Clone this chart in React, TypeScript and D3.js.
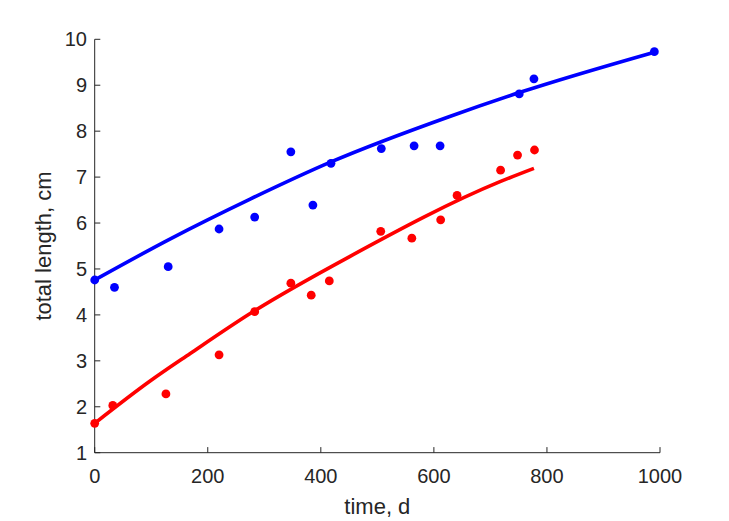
import React from "react";
import * as d3 from "d3";

// Observed data (blue series)
const blueTime = [0, 35, 130, 220, 283, 347, 386, 418, 507, 565, 611, 751, 777, 990];
const blueLength = [4.76, 4.6, 5.05, 5.87, 6.13, 7.55, 6.39, 7.3, 7.62, 7.68, 7.68, 8.81, 9.14, 9.73];

// Observed data (red series)
const redTime = [0, 32, 126, 220, 283, 347, 383, 415, 506, 561, 612, 641, 718, 748, 778];
const redLength = [1.64, 2.03, 2.28, 3.13, 4.07, 4.69, 4.43, 4.74, 5.82, 5.67, 6.07, 6.6, 7.15, 7.48, 7.59];

// Fitted curves
const blueFitTime = [0, 133, 275, 418, 628, 751, 990];
const blueFitLength = [4.76, 5.65, 6.52, 7.33, 8.32, 8.84, 9.72];
const redFitTime = [0, 98, 169, 275, 451, 717, 777];
const redFitLength = [1.64, 2.56, 3.16, 4.03, 5.27, 6.9, 7.19];

const xTicks = [0, 200, 400, 600, 800, 1000];
const yTicks = [1, 2, 3, 4, 5, 6, 7, 8, 9, 10];

const W = 729;
const H = 521;
const left = 94.7;
const right = 660;
const top = 39.3;
const bottom = 452.7;
const axisColor = "#262626";
const font = "Arial, 'Liberation Sans', Helvetica, sans-serif";

export default function App() {
  const x = d3.scaleLinear().domain([0, 1000]).range([left, right]);
  const y = d3.scaleLinear().domain([1, 10]).range([bottom, top]);

  const line = d3
    .line<[number, number]>()
    .x((d) => x(d[0]))
    .y((d) => y(d[1]))
    .curve(d3.curveMonotoneX);

  const bluePts = blueFitTime.map((t, i) => [t, blueFitLength[i]] as [number, number]);
  const redPts = redFitTime.map((t, i) => [t, redFitLength[i]] as [number, number]);

  return (
    <svg
      width={W}
      height={H}
      style={{ position: "absolute", left: 0, top: 0, background: "#fff" }}
      fontFamily={font}
    >
      <rect x={0} y={0} width={W} height={H} fill="#fff" />
      {/* axes */}
      <line x1={left} x2={left} y1={top} y2={bottom} stroke={axisColor} strokeWidth={1} />
      <line x1={left} x2={right} y1={bottom} y2={bottom} stroke={axisColor} strokeWidth={1} />
      {xTicks.map((t) => (
        <g key={"x" + t}>
          <line x1={x(t)} x2={x(t)} y1={bottom} y2={bottom - 5.6} stroke={axisColor} strokeWidth={1} />
          <text x={x(t)} y={483} textAnchor="middle" fontSize={20} fill={axisColor}>
            {t}
          </text>
        </g>
      ))}
      {yTicks.map((t) => (
        <g key={"y" + t}>
          <line x1={left} x2={left + 5.6} y1={y(t)} y2={y(t)} stroke={axisColor} strokeWidth={1} />
          <text
            x={87}
            y={y(t)}
            textAnchor="end"
            dominantBaseline="central"
            fontSize={20}
            fill={axisColor}
          >
            {t}
          </text>
        </g>
      ))}
      <text x={(left + right) / 2} y={514} textAnchor="middle" fontSize={22} fill={axisColor}>
        time, d
      </text>
      <text
        transform={`translate(51,${(top + bottom) / 2}) rotate(-90)`}
        textAnchor="middle"
        fontSize={22}
        fill={axisColor}
      >
        total length, cm
      </text>

      {/* fitted curves */}
      <path d={line(bluePts) || ""} fill="none" stroke="#0000ff" strokeWidth={3.6} />
      <path d={line(redPts) || ""} fill="none" stroke="#ff0000" strokeWidth={3.6} />

      {/* observations */}
      {blueTime.map((t, i) => (
        <circle key={"b" + i} cx={x(t)} cy={y(blueLength[i])} r={4.4} fill="#0000ff" />
      ))}
      {redTime.map((t, i) => (
        <circle key={"r" + i} cx={x(t)} cy={y(redLength[i])} r={4.4} fill="#ff0000" />
      ))}
    </svg>
  );
}
